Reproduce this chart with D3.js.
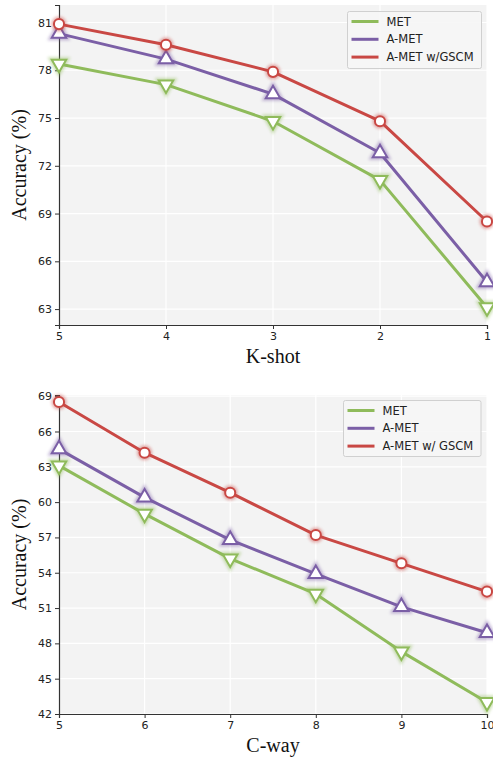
<!DOCTYPE html>
<html>
<head>
<meta charset="utf-8">
<script src="https://cdn.jsdelivr.net/npm/d3@7"></script>
<style>
  body { margin: 0; background: #fff; }
  svg { display: block; }
</style>
</head>
<body>
<div id="screen"></div>
<script>
// top panel: K-shot
var kShots = [5, 4, 3, 2, 1];
var kTicks = [63, 66, 69, 72, 75, 78, 81];
var kMet = [78.4, 77.1, 74.8, 71.1, 63.1];
var kAmet = [80.3, 78.7, 76.5, 72.8, 64.7];
var kGscm = [80.9, 79.6, 77.9, 74.8, 68.5];

// bottom panel: C-way
var cWays = [5, 6, 7, 8, 9, 10];
var cTicks = [42, 45, 48, 51, 54, 57, 60, 63, 66, 69];
var cMet = [63.1, 59.0, 55.2, 52.2, 47.3, 43.0];
var cAmet = [64.5, 60.4, 56.8, 53.9, 51.1, 48.9];
var cGscm = [68.5, 64.2, 60.8, 57.2, 54.8, 52.4];

var green = "#8fbb5b", purple = "#7b5fa6", red = "#c94844";

var svg = d3.select("#screen").append("svg").attr("width", 493).attr("height", 757);

var defs = svg.append("defs");
defs.append("filter").attr("id", "glow")
    .attr("x", "-100%").attr("y", "-100%").attr("width", "300%").attr("height", "300%")
    .append("feGaussianBlur").attr("stdDeviation", 1.6);

const drawPanel = function(opt) {
    var x = d3.scalePoint().domain(opt.cats).range([opt.left, opt.right]);
    var y = d3.scaleLinear().domain(opt.ydom).range([opt.bottom, opt.top]);
    var g = svg.append("g");

    g.append("rect")
        .attr("x", opt.left).attr("y", opt.top)
        .attr("width", opt.right - opt.left).attr("height", opt.bottom - opt.top)
        .attr("fill", "#f3f3f3");

    // grid
    g.selectAll(".gx").data(opt.cats).enter().append("line")
        .attr("x1", d => x(d)).attr("x2", d => x(d))
        .attr("y1", opt.top).attr("y2", opt.bottom)
        .attr("stroke", "#fff").attr("stroke-width", 1.2);
    g.selectAll(".gy").data(opt.ticks).enter().append("line")
        .attr("x1", opt.left).attr("x2", opt.right)
        .attr("y1", d => y(d)).attr("y2", d => y(d))
        .attr("stroke", "#fff").attr("stroke-width", 1.2);

    var xa = g.append("g").attr("transform", "translate(0," + opt.bottom + ")")
        .call(d3.axisBottom(x).tickSize(4).tickPadding(3));
    var ya = g.append("g").attr("transform", "translate(" + opt.left + ",0)")
        .call(d3.axisLeft(y).tickValues(opt.ticks).tickSize(4).tickPadding(3));
    [xa, ya].forEach(a => {
        a.select(".domain").attr("stroke", "#333").attr("stroke-width", 1.2);
        a.selectAll(".tick line").attr("stroke", "#333");
        a.selectAll(".tick text").attr("fill", "#222")
            .style("font-family", "DejaVu Sans").style("font-size", "11px");
    });

    var series = [
        {vals: opt.met, color: green, mark: "down"},
        {vals: opt.amet, color: purple, mark: "up"},
        {vals: opt.gscm, color: red, mark: "circle"}
    ];

    var line = d3.line().x((d, i) => x(opt.cats[i])).y(d => y(d));
    series.forEach(s => {
        g.append("path").datum(s.vals)
            .attr("d", line).attr("fill", "none")
            .attr("stroke", s.color).attr("stroke-width", 3)
            .attr("stroke-linejoin", "round");
    });

    var sym = {
        circle: d3.symbol().type(d3.symbolCircle).size(80),
        up: d3.symbol().type(d3.symbolTriangle).size(90)
    };
    series.forEach(s => {
        var shape = s.mark == "circle" ? sym.circle() : sym.up();
        var rot = s.mark == "down" ? " rotate(180)" : "";
        var pts = g.selectAll(null).data(s.vals).enter().append("g")
            .attr("transform", (d, i) => "translate(" + x(opt.cats[i]) + "," + y(d) + ")" + rot);
        pts.append("path").attr("d", shape)
            .attr("fill", "none").attr("stroke", s.color).attr("stroke-width", 5)
            .attr("opacity", 0.45).attr("filter", "url(#glow)");
        pts.append("path").attr("d", shape)
            .attr("fill", "#fff").attr("stroke", s.color).attr("stroke-width", 2);
    });

    // legend
    var lg = g.append("g");
    lg.append("rect")
        .attr("x", opt.leg.x).attr("y", opt.leg.y)
        .attr("width", opt.leg.w).attr("height", opt.leg.h)
        .attr("rx", 2).attr("fill", "#f6f6f6").attr("fill-opacity", 0.9)
        .attr("stroke", "#d0d0d0");
    opt.names.forEach((n, i) => {
        var yy = opt.leg.y + 10 + i * 17.8;
        lg.append("line")
            .attr("x1", opt.leg.x + 4).attr("x2", opt.leg.x + 31)
            .attr("y1", yy).attr("y2", yy)
            .attr("stroke", series[i].color).attr("stroke-width", 3);
        lg.append("text").text(n)
            .attr("x", opt.leg.x + 39).attr("y", yy + 4)
            .style("font-family", "DejaVu Sans").style("font-size", "11.5px")
            .attr("fill", "#222");
    });

    g.append("text").text(opt.xlabel)
        .attr("x", (opt.left + opt.right) / 2).attr("y", opt.bottom + 38)
        .attr("text-anchor", "middle")
        .style("font-family", "Liberation Serif").style("font-size", "20px").attr("fill", "#111");
    g.append("text").text("Accuracy (%)")
        .attr("transform", "translate(26," + ((opt.top + opt.bottom) / 2) + ") rotate(-90)")
        .attr("text-anchor", "middle")
        .style("font-family", "Liberation Serif").style("font-size", "20px").attr("fill", "#111");
};

drawPanel({
    cats: kShots, ticks: kTicks, met: kMet, amet: kAmet, gscm: kGscm,
    ydom: [62, 82.1], left: 59, right: 487, top: 5, bottom: 325,
    xlabel: "K-shot", names: ["MET", "A-MET", "A-MET w/GSCM"],
    leg: {x: 347.5, y: 11.5, w: 134, h: 57}
});

drawPanel({
    cats: cWays, ticks: cTicks, met: cMet, amet: cAmet, gscm: cGscm,
    ydom: [42, 69.1], left: 59, right: 487, top: 395, bottom: 714,
    xlabel: "C-way", names: ["MET", "A-MET", "A-MET w/ GSCM"],
    leg: {x: 343.5, y: 400.5, w: 137.5, h: 56}
});
</script>
</body>
</html>
